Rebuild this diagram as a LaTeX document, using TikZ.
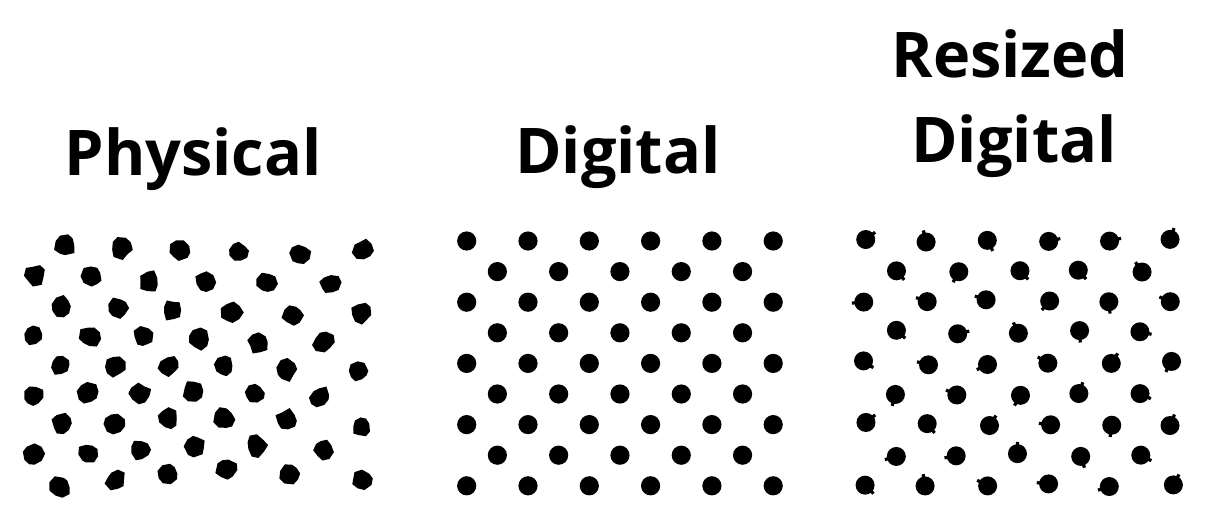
\documentclass[tikz,border=0pt]{standalone}
\usepackage{fontspec}
\setmainfont{Open Sans}
\newcommand\myblob[3]{%
  \pgfmathsetmacro\myrot{rnd*360}%
  \fill[shift={(#1,#2)},rotate=\myrot] (0:{#3+4.4*rnd-2.2}) -- (40:{#3+4.4*rnd-2.2}) -- (80:{#3+4.4*rnd-2.2}) -- (120:{#3+4.4*rnd-2.2}) -- (160:{#3+4.4*rnd-2.2}) -- (200:{#3+4.4*rnd-2.2}) -- (240:{#3+4.4*rnd-2.2}) -- (280:{#3+4.4*rnd-2.2}) -- (320:{#3+4.4*rnd-2.2}) -- cycle;%
}
\newcommand\mypix[3]{%
  \pgfmathsetmacro\myrot{rnd*360}%
  \fill (#1,#2) circle[radius=#3];%
  \fill[shift={(#1,#2)},rotate=\myrot] (-3,-1.6) rectangle ({#3+2.4},1.6);%
}
\tikzset{title/.style={anchor=base,inner sep=0pt,font=\fontsize{63}{70}\selectfont\bfseries}}
\begin{document}
\begin{tikzpicture}[x=1pt,y=-1pt]
\pgfmathsetseed{4217}
\useasboundingbox (0,0) rectangle (1218,522);
\fill[white] (0,0) rectangle (1218,522);
% titles
\node[title] (phys) at (193,175) {Physical};
\node[title] (dig) at (618,173) {Digital};
\node[title] (res) at (1010,77) {Resized};
\node[title] (rdig) at (1014,162) {Digital};
% physical panel
\foreach \px/\py in {
 65/245, 121.7/248.3, 180/250, 238.3/251.7, 300/255, 363.3/250,
 35/275, 92.7/276, 149/281, 205/281.7, 266.7/283.3, 330/284.3,
 61.7/306.7, 118.3/308.3, 172.3/310, 231.7/312.7, 293.3/315, 361.7/313.3,
 33.3/335, 90/336.7, 143.3/337.3, 198.3/339, 258.3/343.3, 323.3/341.7,
 60.7/365, 115/365.7, 169.3/365.7, 224/366.7, 286.7/370, 358.3/371.7,
 33.3/396, 88.3/393.3, 140/393.3, 193.3/391.7, 255/393.3, 320/396.7,
 62.7/424, 114/423.3, 167.7/418.3, 225/418.3, 286.7/420, 361.7/426.7,
 33.3/455, 88.3/453.3, 141/449.3, 195/446, 256/446, 323.3/449.3,
 60.7/486.7, 116/480, 168.3/474, 226.7/470, 290/473.3, 361.7/480}
 {\myblob{\px}{\py}{10.2}}
% digital panel
\foreach \r in {0,...,8} {
  \pgfmathsetmacro\off{mod(\r,2)*30.65}
  \pgfmathtruncatemacro\nc{ifthenelse(mod(\r,2)==1,4,5)}
  \foreach \c in {0,...,\nc} {
    \fill ({466.7+\off+\c*61.3},{241+\r*30.6}) circle[radius=9.6];
  }
}
% resized digital panel
\foreach \r in {0,...,8} {
  \pgfmathsetmacro\off{mod(\r,2)*30.65}
  \pgfmathtruncatemacro\nc{ifthenelse(mod(\r,2)==1,4,5)}
  \foreach \c in {0,...,\nc} {
    \pgfmathsetmacro\qx{865.5+\off+\c*61.2+4*rnd-2}
    \pgfmathsetmacro\qy{240.5+\r*30.6+4*rnd-2}
    \mypix{\qx}{\qy}{9.5}
  }
}
\end{tikzpicture}
\end{document}
